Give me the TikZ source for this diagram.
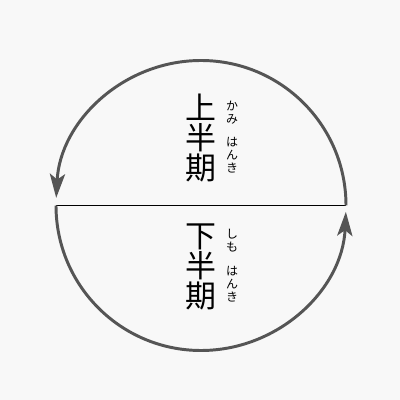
\documentclass[tikz,border=0pt]{standalone}
\usepackage{fontspec}
\newfontfamily\jpfont{Noto Sans CJK JP}
\usetikzlibrary{arrows.meta}
\definecolor{bggray}{HTML}{F8F8F8}
\definecolor{ringgray}{HTML}{555555}
\begin{document}
\begin{tikzpicture}[
  x=0.25mm, y=0.25mm,
  kanji/.style={inner sep=0pt, align=center, font=\jpfont\fontsize{22}{21.5}\selectfont},
  ruby/.style={inner sep=0pt, align=center, font=\jpfont\fontsize{8.5}{9.3}\selectfont},
  ring/.style={draw=ringgray, line width=2.1pt, -{Stealth[length=6mm, width=3.8mm, inset=1.4mm]}}
]
\fill[bggray] (0,0) rectangle (400,400);
\useasboundingbox (0,0) rectangle (400,400);
\coordinate (center) at (201,194.5);
\coordinate (right) at (346,194.5);
\coordinate (left) at (56,194.5);
\node[kanji] (upper) at (201,262) {上\\半\\期};
\node[ruby] (kami) at (232,287.5) {か\\み};
\node[ruby] (hanki1) at (232,245) {は\\ん\\き};
\node[kanji] (lower) at (201,133) {下\\半\\期};
\node[ruby] (shimo) at (232,159.5) {し\\も};
\node[ruby] (hanki2) at (232,116) {は\\ん\\き};
\draw[line width=0.7pt] (left) -- (right);
\draw[ring] (right) arc[start angle=0, end angle=177, radius=145];
\draw[ring] (left) arc[start angle=180, end angle=357.5, radius=145];
\end{tikzpicture}
\end{document}
